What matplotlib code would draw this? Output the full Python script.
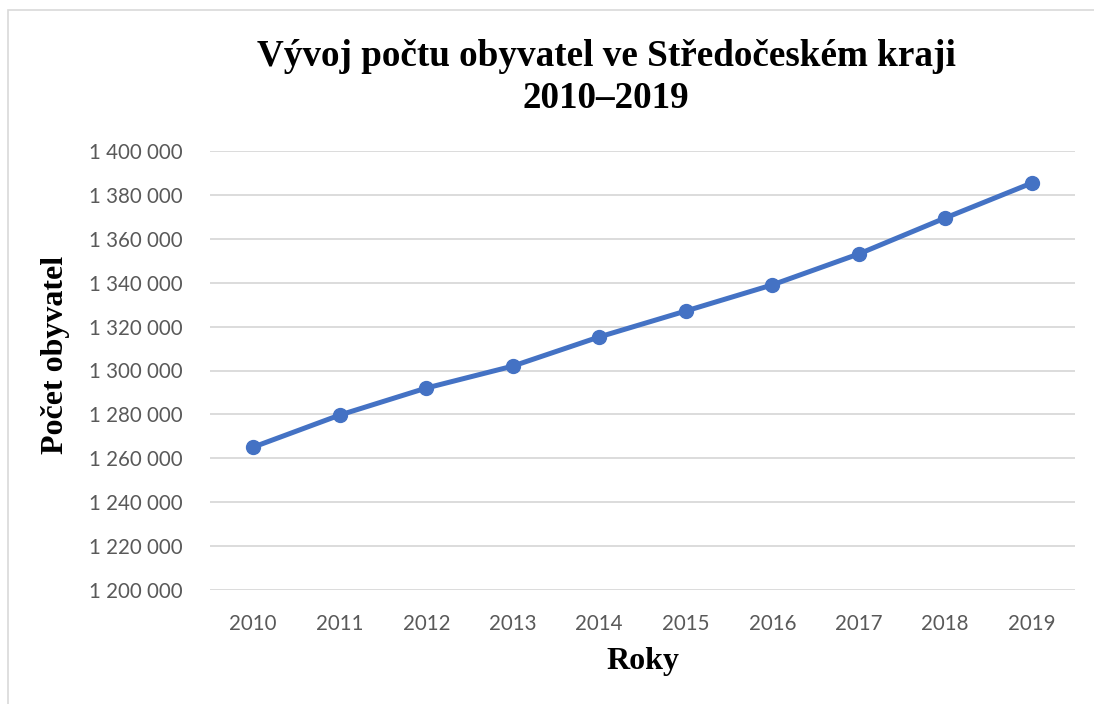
import matplotlib.pyplot as plt
from matplotlib.ticker import FuncFormatter
from matplotlib.patches import Rectangle

# data
years = ["2010", "2011", "2012", "2013", "2014", "2015", "2016", "2017", "2018", "2019"]
population = [1265100, 1279700, 1292000, 1302000, 1315300, 1327100, 1339000, 1353100, 1369500, 1385400]
y_ticks = [1200000, 1220000, 1240000, 1260000, 1280000, 1300000, 1320000, 1340000, 1360000, 1380000, 1400000]

tick_font = "Lato"
serif_font = "Liberation Serif"


def fmt_thousands(v, pos):
    return f"{int(v):,}".replace(",", " ")


def main():
    fig = plt.figure(figsize=(10.94, 7.04), dpi=100)
    ax = fig.add_axes([210 / 1094, 1 - 590 / 704, 865 / 1094, 439 / 704])

    # chart area border (light gray, like Excel)
    fig.patches.append(Rectangle((8 / 1094, -0.01), 1.2, 1 - 10 / 704 + 0.01,
                                 transform=fig.transFigure, fill=False,
                                 edgecolor="#D9D9D9", linewidth=1.2))

    x = list(range(len(years)))
    ax.plot(x, population, color="#4472C4", linewidth=3.6, marker="o",
            markersize=10, solid_capstyle="round", zorder=3)

    ax.set_xlim(-0.5, len(years) - 0.5)
    ax.set_ylim(1200000, 1400000)
    ax.set_xticks(x)
    ax.set_xticklabels(years)
    ax.set_yticks(y_ticks)
    ax.yaxis.set_major_formatter(FuncFormatter(fmt_thousands))

    ax.grid(axis="y", color="#D9D9D9", linewidth=1.3)
    ax.set_axisbelow(True)
    for s in ax.spines.values():
        s.set_visible(False)
    ax.tick_params(length=0, labelsize=14.8, labelcolor="#595959")
    ax.tick_params(axis="y", pad=20)
    ax.tick_params(axis="x", pad=17)
    for lab in ax.get_xticklabels() + ax.get_yticklabels():
        lab.set_fontfamily(tick_font)

    fig.text(606 / 1094, 1 - 56 / 704, "Vývoj počtu obyvatel ve Středočeském kraji",
             ha="center", va="center", fontsize=26.7, fontweight="bold", family=serif_font)
    fig.text(606 / 1094, 1 - 98 / 704, "2010–2019",
             ha="center", va="center", fontsize=26.7, fontweight="bold", family=serif_font)

    fig.text(643 / 1094, 1 - 662 / 704, "Roky", ha="center", va="center",
             fontsize=23, fontweight="bold", family=serif_font)
    fig.text(56 / 1094, 1 - 355 / 704, "Počet obyvatel", ha="center", va="center",
             rotation=90, fontsize=23, fontweight="bold", family=serif_font)

    fig.savefig("out.png", dpi=100)
    plt.close(fig)


if __name__ == "__main__":
    main()
